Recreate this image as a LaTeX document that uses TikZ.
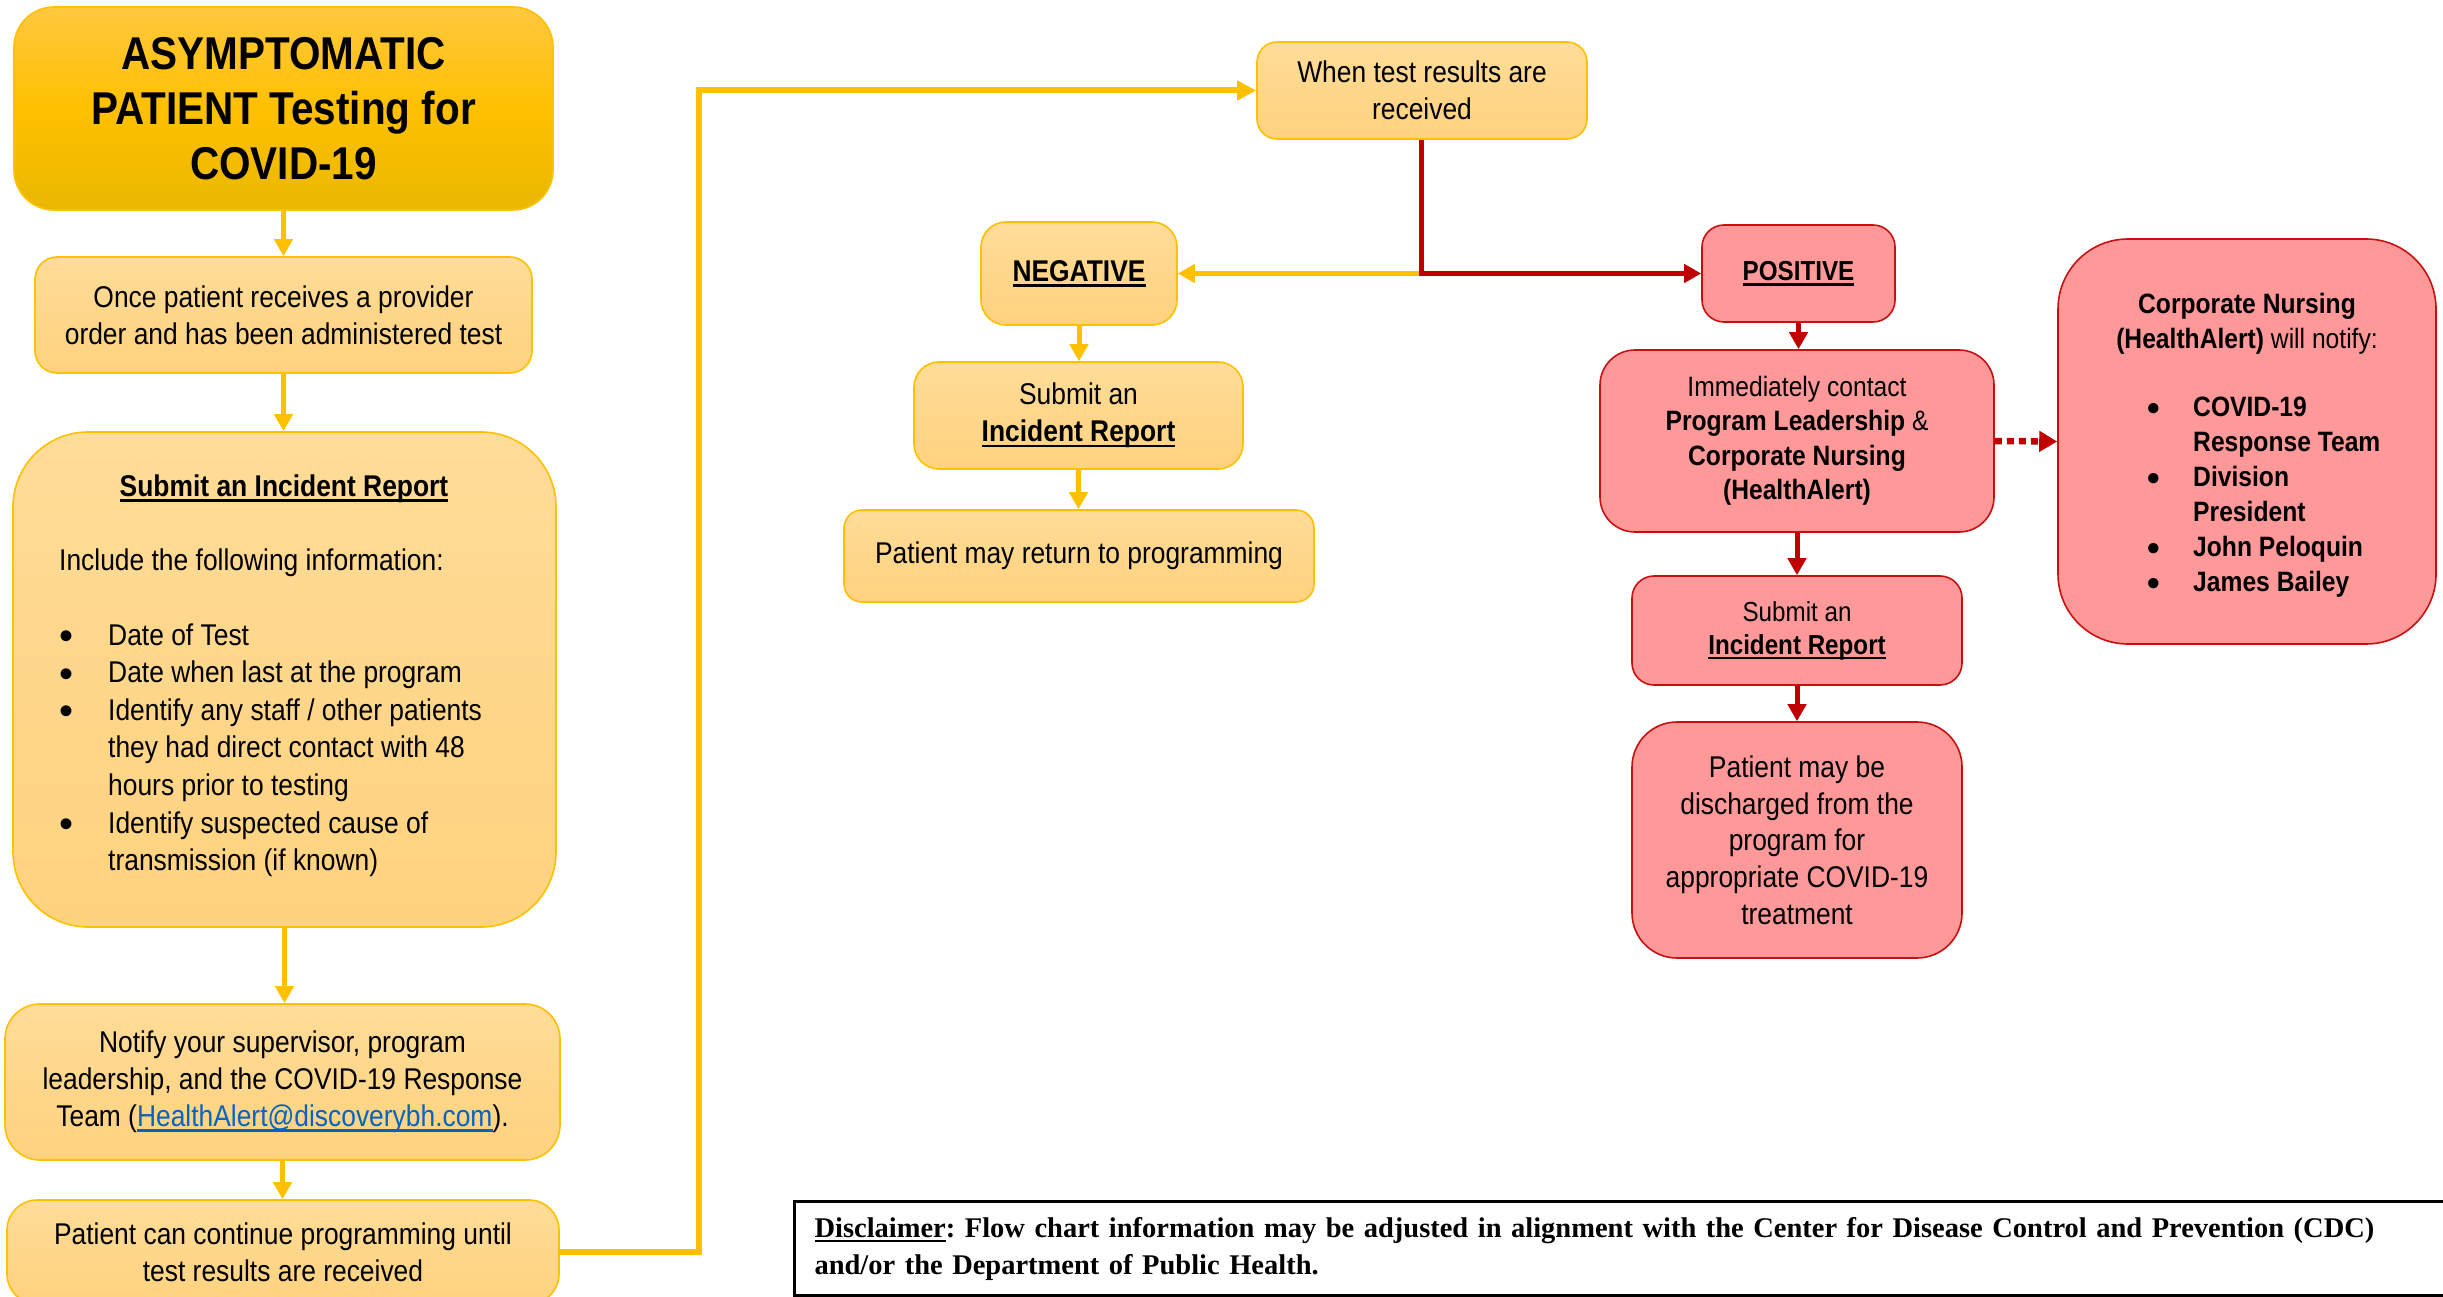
\documentclass[tikz,border=0pt]{standalone}
\usepackage{fontspec}
\setmainfont{Liberation Sans}[FakeStretch=0.88]
\newfontfamily\bulfont{Liberation Sans}
\newfontfamily\discfont{Liberation Serif}
\usetikzlibrary{arrows.meta}
\definecolor{gold}{HTML}{FFC000}
\definecolor{ybord}{HTML}{FFC000}
\definecolor{ytop}{HTML}{FFDC98}
\definecolor{ybot}{HTML}{FFD27E}
\definecolor{ttop}{HTML}{FFC83F}
\definecolor{tmid}{HTML}{FFC000}
\definecolor{tbot}{HTML}{E9B800}
\definecolor{rfill}{HTML}{FF9999}
\definecolor{rbord}{HTML}{C81010}
\definecolor{rred}{HTML}{C00000}
\definecolor{linkblue}{HTML}{0563C1}
\frenchspacing
\newcommand\ulx[1]{\leavevmode\setbox0=\hbox{#1}\rlap{\rule[-0.19em]{\wd0}{0.09em}}\box0}
\newcommand\ulc[1]{\leavevmode\setbox0=\hbox{#1}\rlap{\rule[-0.16em]{\wd0}{0.07em}}\box0}
\newcommand\bul{{\bulfont\fontsize{40}{40}\selectfont\raisebox{-4.5pt}{•}}}
\newcommand\bulb{{\bulfont\fontsize{36}{36}\selectfont\raisebox{-4pt}{•}}}
\begin{document}
\begin{tikzpicture}[x=1pt,y=-1pt,
  ybox/.style={draw=ybord, line width=1.6pt, top color=ytop, bottom color=ybot, align=center, inner sep=0pt, font=\fontsize{30}{37}\selectfont},
  tbox/.style={draw=ybord, line width=1.6pt, top color=ttop, bottom color=tbot, middle color=tmid, align=center, inner sep=0pt, font=\fontsize{46}{55}\selectfont\bfseries},
  rbox/.style={draw=rbord, line width=1.6pt, fill=rfill, align=center, inner sep=0pt, font=\fontsize{30}{37}\selectfont},
  txt/.style={inner sep=0pt, align=left},
  yarr/.style={draw=gold, line width=5pt, -{Triangle[width=18pt,length=17pt]}},
  yline/.style={draw=gold, line width=6pt, -{Triangle[width=19pt,length=19pt]}},
  rarr/.style={draw=rred, line width=5pt, -{Triangle[width=18pt,length=17pt]}},
  rline/.style={draw=rred, line width=5pt},
  rdot/.style={draw=rred, line width=6.5pt, dash pattern=on 7pt off 5pt, -{Triangle[width=20pt,length=18pt]}},
  discbox/.style={draw=black, line width=3pt, inner xsep=20pt, inner ysep=0pt, align=left, text width=1700pt, font=\discfont\fontsize{28.5}{37}\selectfont\bfseries}
]
\useasboundingbox (0,0) rectangle (2443,1297);
\clip (0,0) rectangle (2443,1297);

% left column
\node[tbox, minimum width=539, minimum height=203, rounded corners=40] (title) at (283.5,108.5) {ASYMPTOMATIC\\PATIENT Testing for\\COVID-19};
\node[ybox, minimum width=497, minimum height=116, rounded corners=22] (b2) at (283.5,315) {Once patient receives a provider\\order and has been administered test};
\node[ybox, minimum width=543, minimum height=495, rounded corners=75] (b3) at (284.5,679.5) {};
\node[txt, anchor=base, font=\fontsize{30}{37.6}\selectfont\bfseries] (b3h) at (284,496) {\ulx{Submit an Incident Report}};
\node[txt, anchor=base west, font=\fontsize{30}{37.6}\selectfont] (b3i) at (59,570) {Include the following information:};
\node[txt, anchor=base west, font=\fontsize{30}{37.6}\selectfont] (b3l) at (59,645) {\begin{tabular}[t]{@{}p{49pt}@{}l@{}}
\bul & Date of Test\\
\bul & Date when last at the program\\
\bul & Identify any staff / other patients\\
 & they had direct contact with 48\\
 & hours prior to testing\\
\bul & Identify suspected cause of\\
 & transmission (if known)
\end{tabular}};
\node[ybox, minimum width=555, minimum height=156, rounded corners=35] (b4) at (282.5,1082) {Notify your supervisor, program\\leadership, and the COVID-19 Response\\Team ({\color{linkblue}\ulc{HealthAlert@discoverybh.com}}).};
\node[ybox, minimum width=552, minimum height=104, rounded corners=30] (b5) at (283,1252) {Patient can continue programming until\\test results are received};

\draw[yarr] (title.south) -- (title.south |- b2.north);
\draw[yarr] (b2.south) -- (b2.south |- b3.north);
\draw[yarr] (b3.south) -- (b3.south |- b4.north);
\draw[yarr] (b4.south) -- (b4.south |- b5.north);

% top middle
\node[ybox, minimum width=330, minimum height=97, rounded corners=20] (when) at (1422,90.5) {When test results are\\received};
\coordinate (up) at (699,90.5);
\draw[yline] (b5.east) -| (up) -- (when.west);

% negative branch
\node[ybox, minimum width=196, minimum height=103, rounded corners=25, font=\fontsize{30}{37}\selectfont\bfseries] (neg) at (1079,273.5) {\ulx{NEGATIVE}};
\node[ybox, minimum width=329, minimum height=107, rounded corners=25] (nsub) at (1078.5,415.5) {Submit an\\\textbf{\ulx{Incident Report}}};
\node[ybox, minimum width=470, minimum height=92, rounded corners=18] (nret) at (1079,556) {Patient may return to programming};
\draw[yarr] (neg.south) -- (neg.south |- nsub.north);
\draw[yarr] (nsub.south) -- (nsub.south |- nret.north);

% positive branch
\node[rbox, minimum width=193, minimum height=97, rounded corners=22, font=\fontsize{27.5}{33}\selectfont\bfseries] (pos) at (1798.5,273.5) {\ulx{POSITIVE}};
\node[rbox, minimum width=394, minimum height=182, rounded corners=35, font=\fontsize{28}{34.5}\selectfont] (imm) at (1797,441) {Immediately contact\\\textbf{Program Leadership} \&\\\textbf{Corporate Nursing}\\\textbf{(HealthAlert)}};
\node[rbox, minimum width=330, minimum height=109, rounded corners=22, font=\fontsize{27.5}{33}\selectfont] (rsub) at (1797,630.5) {Submit an\\\textbf{\ulx{Incident Report}}};
\node[rbox, minimum width=330, minimum height=236, rounded corners=45, font=\fontsize{30}{36.7}\selectfont] (dis) at (1797,840) {Patient may be\\discharged from the\\program for\\appropriate COVID-19\\treatment};
\node[rbox, minimum width=378, minimum height=405, rounded corners=70] (corp) at (2247,441.5) {};
\node[txt, anchor=base, font=\fontsize{28}{35}\selectfont] (corph) at (2247,313) {\begin{tabular}[t]{@{}c@{}}\textbf{Corporate Nursing}\\\textbf{(HealthAlert)} will notify:\end{tabular}};
\node[txt, anchor=base west, font=\fontsize{28}{35}\selectfont\bfseries] (corpl) at (2147,416) {\begin{tabular}[t]{@{}p{46pt}@{}l@{}}
\bulb & COVID-19\\
 & Response Team\\
\bulb & Division\\
 & President\\
\bulb & John Peloquin\\
\bulb & James Bailey
\end{tabular}};

\coordinate (split) at (1421,273.5);
\draw[yarr] (split) -- (neg.east);
\draw[rline] (split |- when.south) -- (split);
\draw[rarr] ([xshift=-2.5pt]split) -- (pos.west);
\draw[rarr] (pos.south) -- (pos.south |- imm.north);
\draw[rarr] (imm.south) -- (imm.south |- rsub.north);
\draw[rarr] (rsub.south) -- (rsub.south |- dis.north);
\draw[rdot] (imm.east) -- (corp.west);

% disclaimer
\node[discbox, anchor=north west, minimum height=94] (disc) at (793,1200) {\ulx{Disclaimer}: Flow chart information may be adjusted in alignment with the Center for Disease Control and Prevention (CDC)\\and/or the Department of Public Health.};
\end{tikzpicture}
\end{document}
